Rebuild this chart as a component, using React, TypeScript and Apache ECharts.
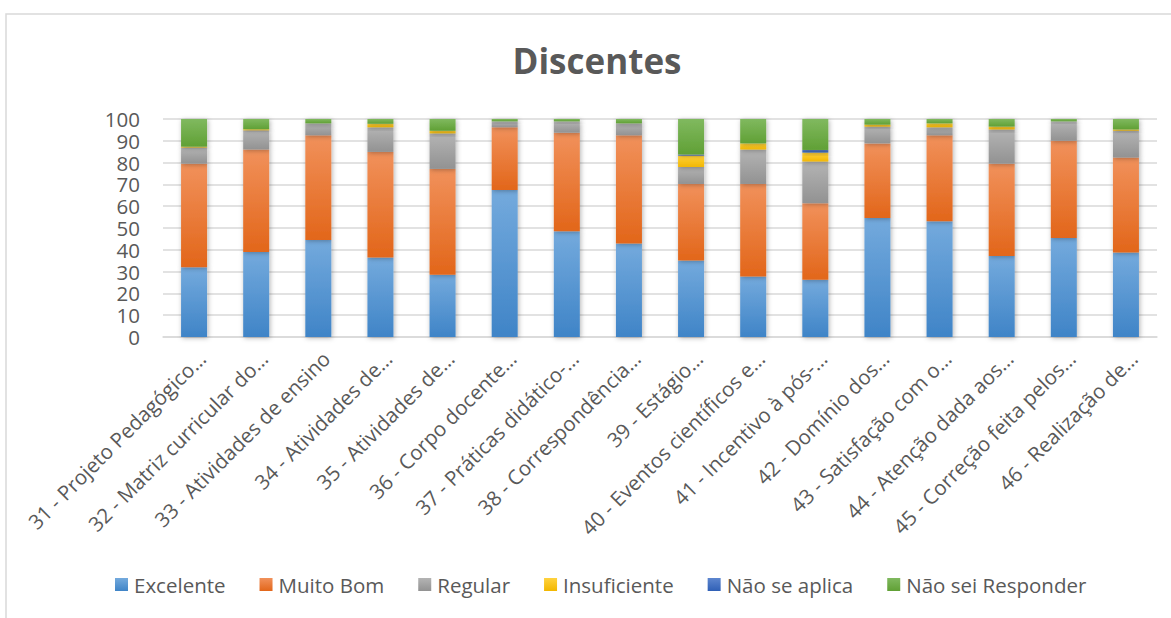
import React, { useEffect, useRef } from "react";
import * as echarts from "echarts";

const categories = [
  "31 - Projeto Pedagógico…",
  "32 - Matriz curricular do…",
  "33 - Atividades de ensino",
  "34 - Atividades de…",
  "35 - Atividades de…",
  "36 - Corpo docente…",
  "37 - Práticas didático-…",
  "38 - Correspondência…",
  "39 - Estágio…",
  "40 - Eventos científicos e…",
  "41 - Incentivo à pós-…",
  "42 - Domínio dos…",
  "43 - Satisfação com o…",
  "44 - Atenção dada aos…",
  "45 - Correção feita pelos…",
  "46 - Realização de…",
];

const excelente = [32, 39, 44.5, 36.5, 28.6, 67.4, 48.5, 42.9, 35.1, 27.7, 26.3, 54.6, 53.1, 37.1, 45.4, 38.8];
const muitoBom = [47.5, 47, 48, 48.4, 48.5, 28.8, 45.2, 49.6, 35.1, 42.5, 35.1, 34.2, 39.4, 42.4, 44.6, 43.5];
const regular = [7.4, 8.8, 5.5, 11.3, 16.3, 2.7, 5.2, 5.5, 7.8, 15.8, 19.1, 7.7, 3.7, 15.7, 8.9, 12.3];
const insuficiente = [0.4, 0.5, 0, 1.6, 1.2, 0, 0, 0, 5.2, 2.8, 4.1, 0.9, 1.8, 1.3, 0, 0.6];
const naoSeAplica = [0, 0, 0, 0, 0, 0, 0, 0, 0.5, 0, 1.2, 0, 0, 0, 0, 0];
const naoSeiResponder = [12.7, 4.7, 2, 2.2, 5.4, 1.1, 1.1, 2, 16.3, 11.2, 14.2, 2.6, 2, 3.5, 1.1, 4.8];

const seriesNames = ["Excelente", "Muito Bom", "Regular", "Insuficiente", "Não se aplica", "Não sei Responder"];
const seriesData = [excelente, muitoBom, regular, insuficiente, naoSeAplica, naoSeiResponder];
const gradients: [string, string][] = [
  ["#74aadd", "#3f84c7"],
  ["#f1915b", "#e2661a"],
  ["#b4b4b4", "#929292"],
  ["#ffd23f", "#f2b700"],
  ["#5d86cf", "#3060b6"],
  ["#80b95f", "#60a035"],
];

const FONT = "'Open Sans', 'Noto Sans', sans-serif";
const TEXT = "#595959";

export default function App() {
  const ref = useRef<HTMLDivElement>(null);
  useEffect(() => {
    if (!ref.current) return;
    const chart = echarts.init(ref.current, undefined, { renderer: "svg" });
    chart.setOption({
      animation: false,
      backgroundColor: "#ffffff",
      textStyle: { fontFamily: FONT },
      title: {
        text: "Discentes",
        left: 592,
        textAlign: "center",
        top: 38,
        textStyle: { fontFamily: FONT, fontSize: 35, fontWeight: "bold", color: TEXT },
      },
      graphic: [
        {
          type: "rect",
          shape: { x: 6, y: 14, width: 1300, height: 800 },
          style: { fill: "none", stroke: "#d9d9d9", lineWidth: 1.5 },
          silent: true,
          z: -1,
        },
      ],
      legend: {
        left: 110,
        top: 569,
        itemWidth: 13,
        itemHeight: 13,
        itemGap: 34,
        icon: "rect",
        data: seriesNames,
        textStyle: { fontFamily: FONT, fontSize: 20.5, color: TEXT, padding: [0, 0, 0, 1] },
      },
      grid: { left: 163, right: 14, top: 119, bottom: 281, containLabel: false },
      xAxis: {
        type: "category",
        data: categories,
        axisTick: { show: false },
        axisLine: { lineStyle: { color: "#d9d9d9", width: 1.5 } },
        axisLabel: {
          interval: 0,
          rotate: 45,
          margin: 10,
          align: "right",
          verticalAlign: "top",
          fontFamily: FONT,
          fontSize: 20.5,
          lineHeight: 22,
          color: TEXT,
        },
      },
      yAxis: {
        type: "value",
        min: 0,
        max: 100,
        interval: 10,
        axisLine: { show: false },
        axisTick: { show: false },
        splitLine: { lineStyle: { color: "#d9d9d9", width: 1.5 } },
        axisLabel: { margin: 23, fontFamily: FONT, fontSize: 20.5, lineHeight: 20, color: TEXT },
      },
      series: seriesNames.map((name, i) => ({
        name,
        type: "bar",
        stack: "total",
        barWidth: 26,
        data: seriesData[i],
        itemStyle: {
          color: new echarts.graphic.LinearGradient(0, 0, 0, 1, [
            { offset: 0, color: gradients[i][0] },
            { offset: 1, color: gradients[i][1] },
          ]),
          shadowBlur: 5,
          shadowColor: "rgba(0,0,0,0.3)",
          shadowOffsetX: 1,
          shadowOffsetY: 1,
        },
      })),
    });
    return () => chart.dispose();
  }, []);
  return (
    <div
      ref={ref}
      style={{ position: "fixed", left: 0, top: 0, width: 1171, height: 618, background: "#fff" }}
    />
  );
}
